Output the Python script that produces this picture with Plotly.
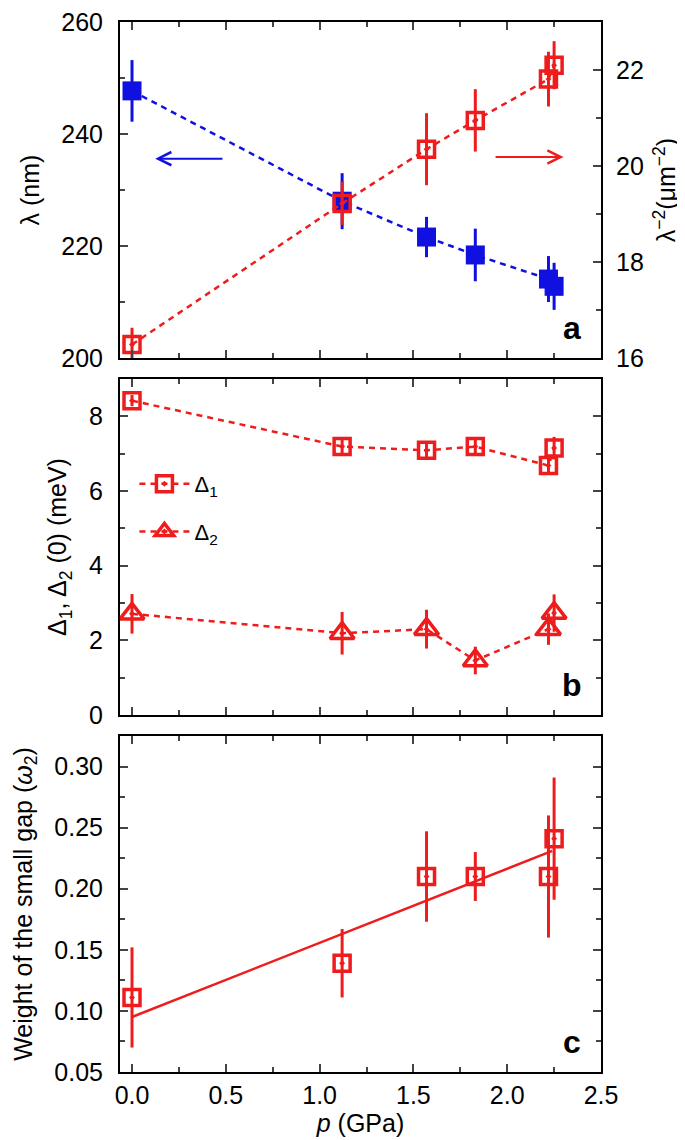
import plotly.graph_objects as go

# ---------------- data ----------------
p = [0.0, 1.12, 1.57, 1.83, 2.22, 2.25]

lam = [247.7, 228.0, 221.6, 218.4, 214.1, 212.8]
lam_err = [5.5, 5.0, 3.6, 4.7, 4.1, 4.2]

lam_m2 = [16.28, 19.22, 20.35, 20.95, 21.81, 22.10]
lam_m2_err = [0.35, 0.45, 0.75, 0.65, 0.57, 0.50]

d1 = [8.42, 7.19, 7.09, 7.19, 6.68, 7.15]
d1_err = [0.15, 0.2, 0.2, 0.2, 0.2, 0.3]

d2 = [2.71, 2.19, 2.30, 1.46, 2.30, 2.73]
d2_err = [0.53, 0.57, 0.52, 0.37, 0.42, 0.50]

w2 = [0.111, 0.139, 0.210, 0.210, 0.210, 0.241]
w2_err = [0.041, 0.028, 0.037, 0.020, 0.050, 0.050]

fit_p = [0.0, 2.24]
fit_w2 = [0.095, 0.231]

RED = "#ee1c1c"
BLUE = "#1010e0"
FONT = "Liberation Sans, Arial, sans-serif"

fig = go.Figure()

def err(vals, color):
    return dict(type="data", array=vals, visible=True, color=color, thickness=3, width=0)

dashline = "6px,5px"
SQ = dict(symbol="square-open-dot", size=16, color=RED, line=dict(width=3.5, color=RED))

# panel a
fig.add_trace(go.Scatter(x=p, y=lam, mode="lines+markers", xaxis="x3", yaxis="y3",
                         line=dict(color=BLUE, width=2.5, dash=dashline),
                         marker=dict(symbol="square", size=19, color=BLUE, line=dict(width=0)),
                         error_y=err(lam_err, BLUE), showlegend=False))
fig.add_trace(go.Scatter(x=p, y=lam_m2, mode="lines+markers", xaxis="x3", yaxis="y4",
                         line=dict(color=RED, width=2.5, dash=dashline),
                         marker=SQ, error_y=err(lam_m2_err, RED), showlegend=False))

# panel b
fig.add_trace(go.Scatter(x=p, y=d1, mode="lines+markers", xaxis="x2", yaxis="y2",
                         name="Δ<sub>1</sub>", legendgroup="g1",
                         line=dict(color=RED, width=2.5, dash=dashline),
                         marker=SQ, error_y=err(d1_err, RED)))
fig.add_trace(go.Scatter(x=p, y=d2, mode="lines+markers", xaxis="x2", yaxis="y2",
                         name="Δ<sub>2</sub>", legendgroup="g2",
                         line=dict(color=RED, width=2.5, dash=dashline),
                         marker=dict(symbol="triangle-up-open-dot", size=21, color=RED, line=dict(width=3.5, color=RED)),
                         error_y=err(d2_err, RED)))

# panel c
fig.add_trace(go.Scatter(x=fit_p, y=fit_w2, mode="lines", xaxis="x", yaxis="y",
                         line=dict(color=RED, width=2.5), showlegend=False))
fig.add_trace(go.Scatter(x=p, y=w2, mode="markers", xaxis="x", yaxis="y",
                         marker=SQ, error_y=err(w2_err, RED), showlegend=False))

TICKF = dict(family=FONT, size=25, color="black")
TITLEF = dict(family=FONT, size=25, color="black")

def xax(show_labels, anchor):
    d = dict(range=[-0.064, 2.5], dtick=0.5, tick0=0, tickformat=".1f",
             ticks="inside", ticklen=8, tickwidth=1.5, showline=True, linewidth=2, linecolor="black",
             mirror="ticks", showgrid=False, zeroline=False, anchor=anchor, automargin=False,
             ticklabeloverflow="allow",
             minor=dict(ticks="inside", ticklen=5, dtick=0.25, tick0=0, tickwidth=1.5, showgrid=False),
             showticklabels=show_labels, tickfont=TICKF)
    return d

def yax(rng, dtick, mdtick, domain, anchor, fmt=None, **kw):
    d = dict(range=rng, dtick=dtick, tick0=rng[0] if fmt else 0, domain=domain, anchor=anchor,
             ticks="inside", ticklen=8, tickwidth=1.5, showline=True, linewidth=2, linecolor="black",
             mirror="ticks", showgrid=False, zeroline=False, automargin=False,
             ticklabeloverflow="allow", ticklabelstandoff=10,
             minor=dict(ticks="inside", ticklen=5, dtick=mdtick, tickwidth=1.5, showgrid=False),
             tickfont=TICKF)
    if fmt:
        d["tickformat"] = fmt
    d.update(kw)
    return d

fig.update_layout(
    width=685, height=1140,
    margin=dict(l=112, r=92, t=14, b=76, autoexpand=False),
    paper_bgcolor="white", plot_bgcolor="white",
    font=dict(family=FONT, color="black"),
    xaxis=dict(**xax(True, "y"), domain=[0, 1],
               title=dict(text="<i>p</i> (GPa)", font=TITLEF, standoff=2)),
    xaxis2=dict(**xax(False, "y2"), domain=[0, 1], matches="x"),
    xaxis3=dict(**xax(False, "y3"), domain=[0, 1], matches="x"),
    yaxis=yax([0.05, 0.325], 0.05, 0.025, [0, 0.32], "x", fmt=".2f",
              title=dict(text="Weight of the small gap (<i>ω</i><sub>2</sub>)", font=TITLEF)),
    yaxis2=yax([0, 9], 2, 1, [0.34, 0.66], "x2",
               title=dict(text="Δ<sub>1</sub>, Δ<sub>2</sub> (0) (meV)", font=TITLEF)),
    yaxis3=yax([200, 260], 20, 10, [0.68, 1], "x3", mirror=False,
               title=dict(text="λ (nm)", font=TITLEF)),
    yaxis4=dict(range=[16, 23], dtick=2, tick0=16, overlaying="y3", side="right", anchor="x3",
                ticks="inside", ticklen=8, tickwidth=1.5, showline=True, linewidth=2, linecolor="black",
                showgrid=False, zeroline=False, automargin=False,
                ticklabeloverflow="allow", ticklabelstandoff=8,
                minor=dict(ticks="inside", ticklen=5, dtick=1, tickwidth=1.5, showgrid=False),
                tickfont=TICKF,
                title=dict(text="λ<sup>−2</sup>(μm<sup>−2</sup>)", font=TITLEF)),
    legend=dict(x=0.03, y=0.58, xanchor="left", yanchor="top", bgcolor="rgba(0,0,0,0)",
                traceorder="grouped", tracegroupgap=16,
                font=dict(family=FONT, size=22, color="black"), itemwidth=50),
)

# arrows in panel a
fig.add_annotation(x=0.124, y=235.6, ax=0.49, ay=235.6, xref="x3", yref="y3", axref="x3", ayref="y3",
                   showarrow=True, arrowhead=5, arrowsize=1.3, arrowwidth=2, arrowcolor=BLUE, text="")
fig.add_annotation(x=2.30, y=235.9, ax=1.93, ay=235.9, xref="x3", yref="y3", axref="x3", ayref="y3",
                   showarrow=True, arrowhead=5, arrowsize=1.3, arrowwidth=2, arrowcolor=RED, text="")

# panel letters
for lbl, xr, yr in [("a", "x3 domain", "y3 domain"), ("b", "x2 domain", "y2 domain"), ("c", "x domain", "y domain")]:
    fig.add_annotation(x=0.94, y=0.09, xref=xr, yref=yr, text="<b>%s</b>" % lbl, showarrow=False,
                       font=dict(family=FONT, size=32, color="black"), xanchor="center", yanchor="middle")

fig.write_html("out.html")
